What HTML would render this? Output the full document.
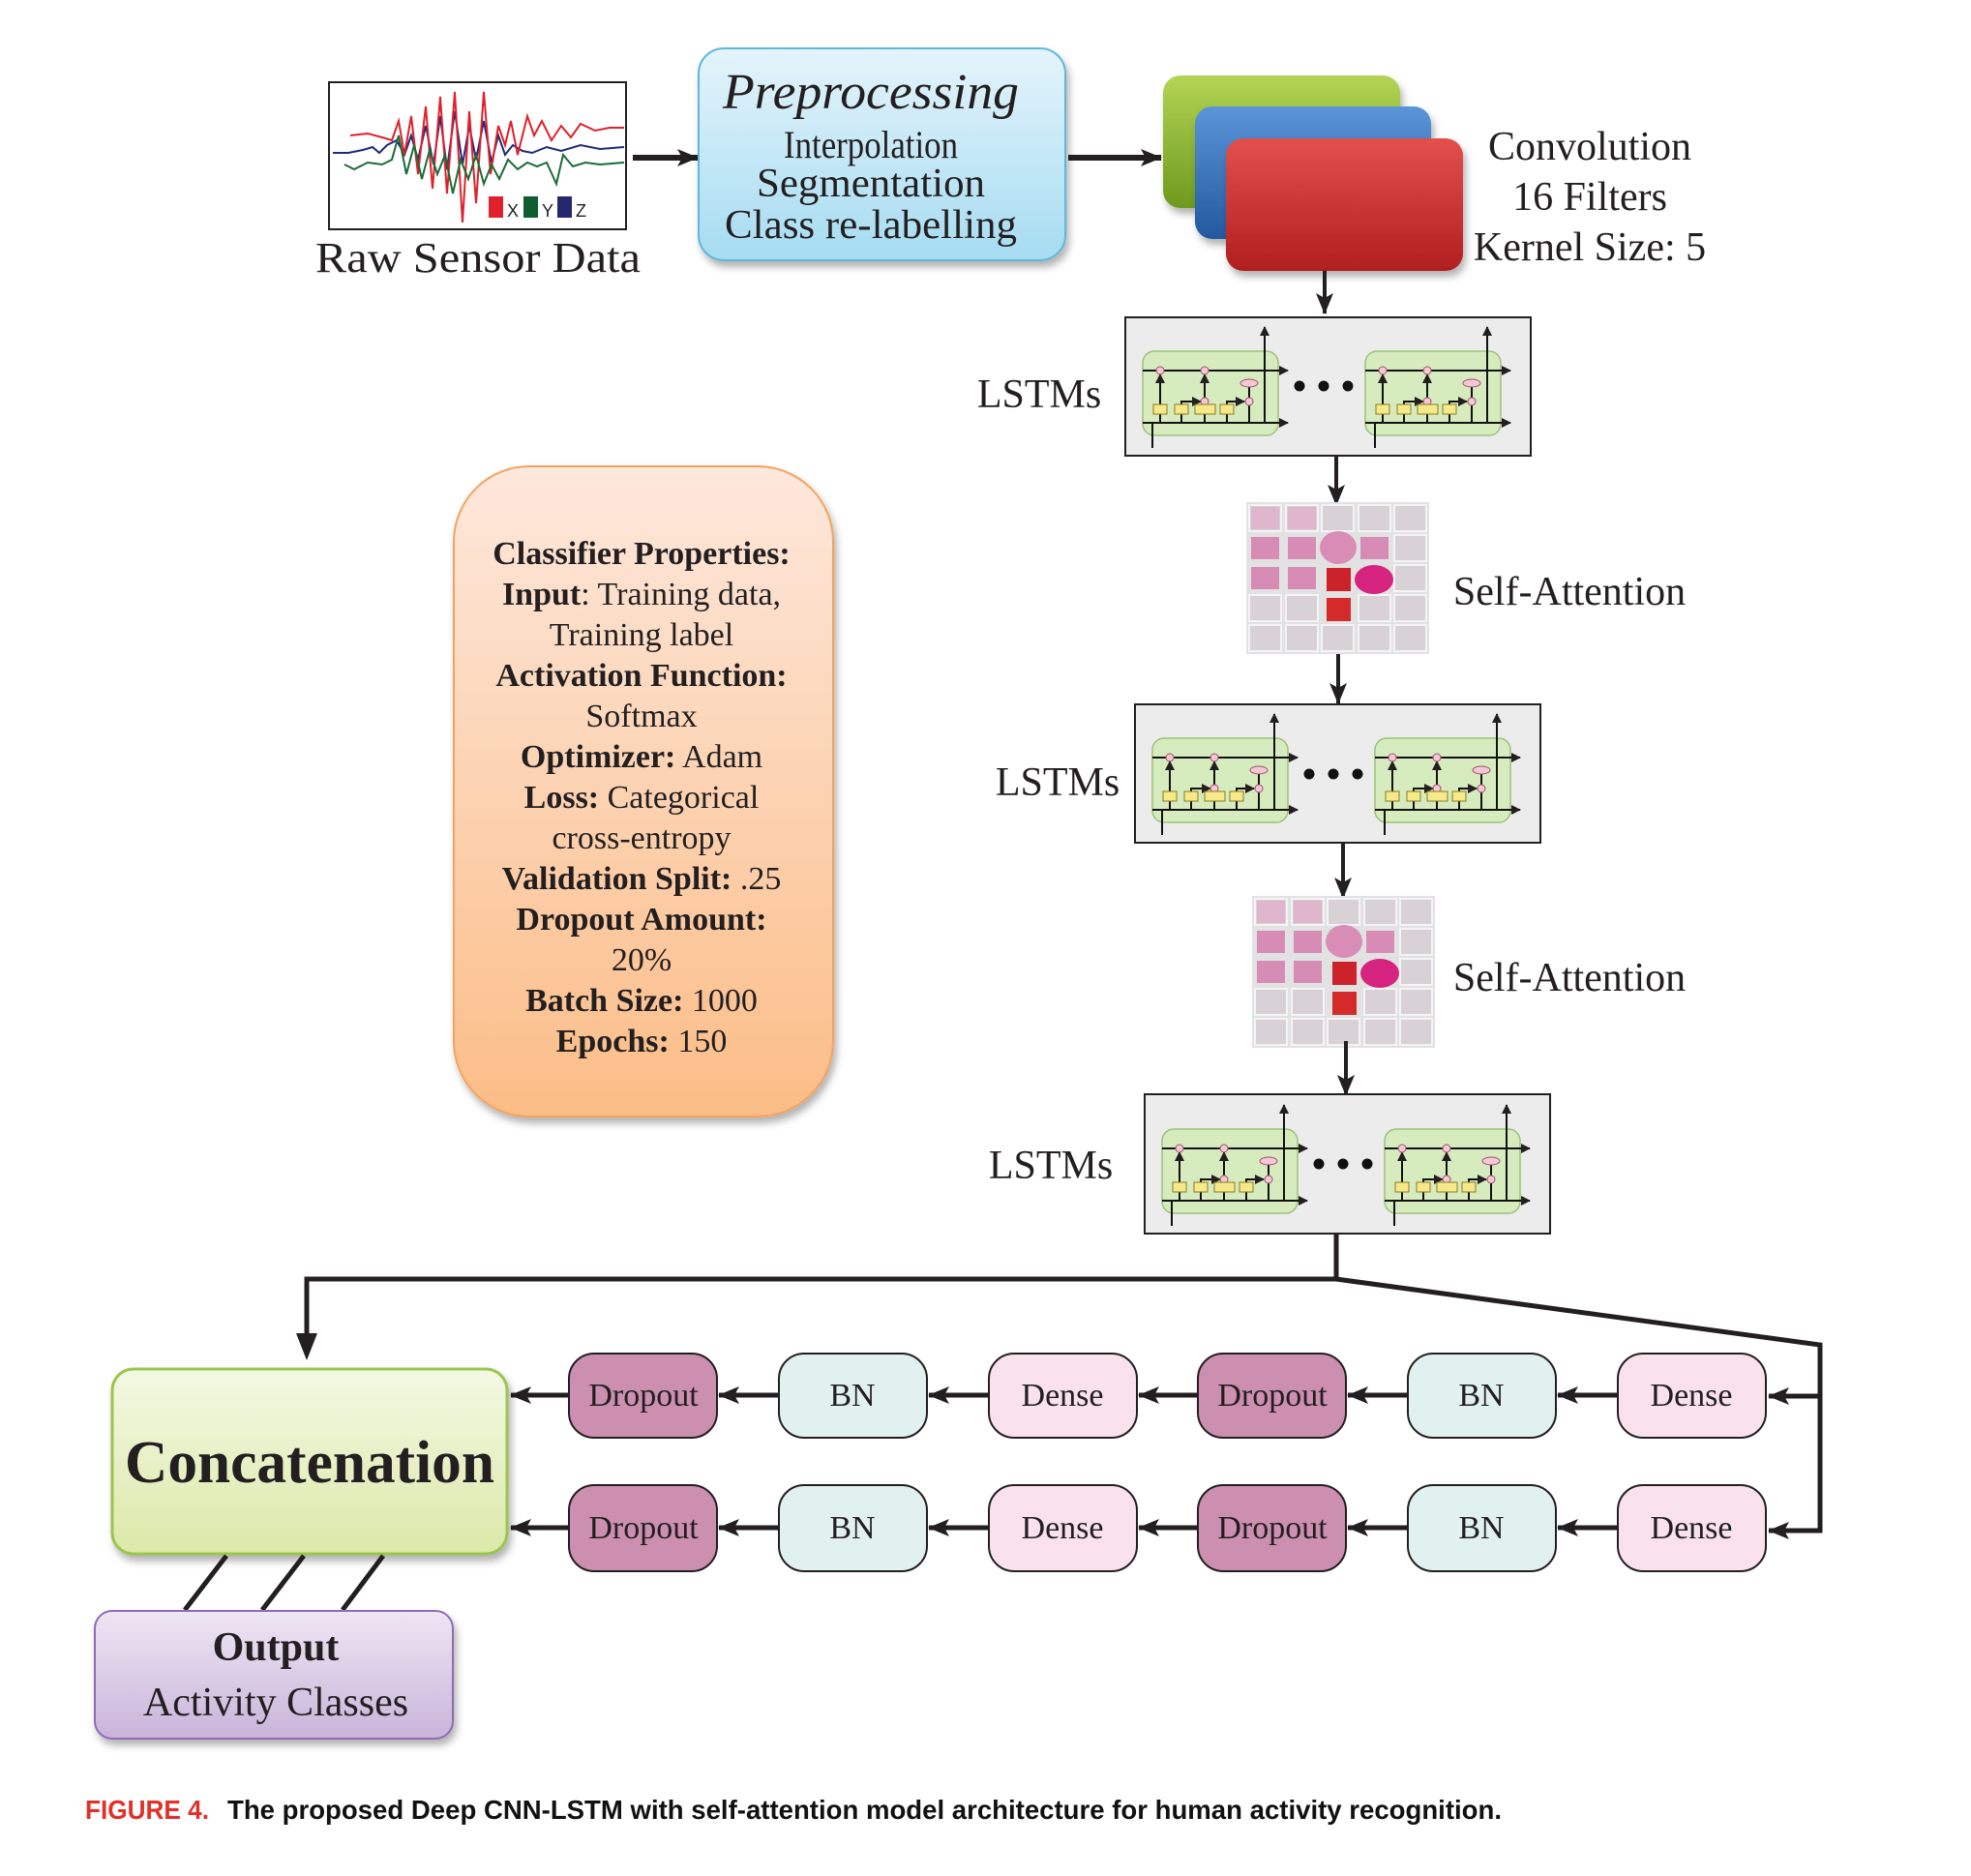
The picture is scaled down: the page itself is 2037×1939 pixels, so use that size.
<!DOCTYPE html>
<html><head><meta charset="utf-8"><style>
html,body{margin:0;padding:0;background:#fff;}
svg{display:block;}
</style></head><body>
<svg width="2037" height="1939" viewBox="0 0 2037 1939" xmlns="http://www.w3.org/2000/svg">
<defs>
<linearGradient id="gBlue" x1="0" y1="0" x2="0" y2="1"><stop offset="0" stop-color="#e4f4fb"/><stop offset="1" stop-color="#a6dcf1"/></linearGradient>
<linearGradient id="gOr" x1="0" y1="0" x2="0" y2="1"><stop offset="0" stop-color="#fde8dc"/><stop offset="1" stop-color="#fbbd87"/></linearGradient>
<linearGradient id="gGreen" x1="0" y1="0" x2="0" y2="1"><stop offset="0" stop-color="#f4f8e4"/><stop offset="1" stop-color="#dbe9a8"/></linearGradient>
<linearGradient id="gPur" x1="0" y1="0" x2="0" y2="1"><stop offset="0" stop-color="#eee6f3"/><stop offset="1" stop-color="#c9b4da"/></linearGradient>
<linearGradient id="gC1" x1="0" y1="0" x2="0" y2="1"><stop offset="0" stop-color="#b4d455"/><stop offset="1" stop-color="#6d9a1e"/></linearGradient>
<linearGradient id="gC2" x1="0" y1="0" x2="0" y2="1"><stop offset="0" stop-color="#5b95d8"/><stop offset="1" stop-color="#23589e"/></linearGradient>
<linearGradient id="gC3" x1="0" y1="0" x2="0" y2="1"><stop offset="0" stop-color="#e3504c"/><stop offset="1" stop-color="#b01e1e"/></linearGradient>
<marker id="ah" markerWidth="10" markerHeight="10" refX="9" refY="5" orient="auto" markerUnits="userSpaceOnUse"><path d="M0,0 L10,5 L0,10 z" fill="#231f20"/></marker>
<marker id="ahB" markerWidth="22" markerHeight="18" refX="21" refY="9" orient="auto" markerUnits="userSpaceOnUse"><path d="M0,0 L22,9 L0,18 L5,9 z" fill="#231f20"/></marker>
<filter id="sh" x="-10%" y="-10%" width="130%" height="130%"><feDropShadow dx="3" dy="6" stdDeviation="4" flood-color="#000" flood-opacity="0.3"/></filter>
<g id="cell">
  <rect x="0" y="0" width="140" height="87" rx="12" fill="#d7ecbe" stroke="#9cc27a" stroke-width="1.5"/>
  <g stroke="#111" stroke-width="2" fill="none">
    <line x1="0" y1="20" x2="150" y2="20" marker-end="url(#ah)"/>
    <line x1="0" y1="74" x2="150" y2="74" marker-end="url(#ah)"/>
    <line x1="126" y1="74" x2="126" y2="-25" marker-end="url(#ah)"/>
    <line x1="10" y1="100" x2="10" y2="74"/>
    <line x1="18" y1="74" x2="18" y2="24" marker-end="url(#ah)"/>
    <path d="M40,74 V52 H60" marker-end="url(#ah)"/>
    <line x1="64" y1="74" x2="64" y2="56"/>
    <line x1="64" y1="48" x2="64" y2="24" marker-end="url(#ah)"/>
    <path d="M87,74 V52 H105" marker-end="url(#ah)"/>
    <path d="M110,35 V74 H126"/>
  </g>
  <g fill="#f4c8d4" stroke="#a05070" stroke-width="1">
    <circle cx="18" cy="20" r="4"/><circle cx="64" cy="20" r="4"/><circle cx="64" cy="52" r="4"/><circle cx="110" cy="52" r="4"/>
    <ellipse cx="110" cy="33" rx="9" ry="4"/>
  </g>
  <g fill="#f5e98a" stroke="#8a7a20" stroke-width="1">
    <rect x="11" y="55" width="14" height="10"/><rect x="33" y="55" width="14" height="10"/><rect x="54" y="55" width="21" height="10"/><rect x="80" y="55" width="14" height="10"/>
  </g>
</g>
<g id="att">
  <rect x="0" y="0" width="189" height="157" fill="#e2e2e2"/>
  <g fill="#d8d2d6" stroke="#f4f4f4" stroke-width="2">
    <rect x="3" y="3" width="33" height="27"/><rect x="41" y="3" width="33" height="27"/><rect x="78" y="3" width="33" height="27"/><rect x="116" y="3" width="33" height="27"/><rect x="153" y="3" width="33" height="27"/>
    <rect x="153" y="34" width="33" height="27"/><rect x="153" y="65" width="33" height="27"/>
    <rect x="3" y="96" width="33" height="27"/><rect x="41" y="96" width="33" height="27"/><rect x="116" y="96" width="33" height="27"/><rect x="153" y="96" width="33" height="27"/>
    <rect x="3" y="127" width="33" height="27"/><rect x="41" y="127" width="33" height="27"/><rect x="78" y="127" width="33" height="27"/><rect x="116" y="127" width="33" height="27"/><rect x="153" y="127" width="33" height="27"/>
  </g>
  <g fill="#e0b6cc"><rect x="5" y="5" width="29" height="23"/><rect x="43" y="5" width="29" height="23"/></g>
  <g fill="#d78cb5"><rect x="5" y="36" width="29" height="23"/><rect x="43" y="36" width="29" height="23"/><rect x="118" y="36" width="29" height="23"/><rect x="5" y="67" width="29" height="23"/><rect x="43" y="67" width="29" height="23"/></g>
  <ellipse cx="95" cy="47" rx="19" ry="17" fill="#d98cb6"/>
  <rect x="83" y="68" width="25" height="24" fill="#cc2229"/>
  <rect x="83" y="99" width="25" height="24" fill="#d42a2a"/>
  <ellipse cx="132" cy="80" rx="20" ry="15" fill="#d6237f"/>
</g>
</defs>

<!-- Raw sensor data -->
<rect x="340" y="85" width="307" height="152" fill="#fff" stroke="#231f20" stroke-width="2"/>
<polyline fill="none" stroke="#1f2a7a" stroke-width="2" points="344,158 360,158 375,155 385,152 392,158 400,150 410,145 418,160 425,140 432,165 440,130 448,170 455,120 462,175 470,115 478,170 485,130 492,165 500,125 508,168 515,140 522,160 530,150 540,156 550,158 565,152 580,156 600,150 620,154 645,152"/>
<polyline fill="none" stroke="#e0202a" stroke-width="2" points="362,140 380,138 395,142 405,145 412,125 418,160 425,120 432,180 440,110 447,195 455,100 462,200 470,95 478,230 485,115 492,210 500,95 507,180 515,130 522,150 528,125 535,160 545,120 552,140 560,125 570,145 580,130 590,142 600,128 615,135 630,132 645,132"/>
<polyline fill="none" stroke="#1b6b35" stroke-width="2" points="356,170 366,175 380,168 395,170 405,165 412,140 420,180 428,150 436,185 444,155 452,180 460,160 468,200 476,165 484,185 492,160 500,190 508,170 516,185 525,165 535,175 545,168 555,172 565,168 575,190 582,160 592,172 605,168 620,170 645,168"/>
<rect x="505" y="203" width="15" height="22" fill="#e0202a"/><text x="524" y="224" font-family="Liberation Sans, sans-serif" font-size="18" fill="#231f20">X</text>
<rect x="541" y="203" width="15" height="22" fill="#0f5c2e"/><text x="560" y="224" font-family="Liberation Sans, sans-serif" font-size="18" fill="#231f20">Y</text>
<rect x="576" y="203" width="15" height="22" fill="#26286e"/><text x="595" y="224" font-family="Liberation Sans, sans-serif" font-size="18" fill="#231f20">Z</text>
<text x="494" y="281" text-anchor="middle" font-family="Liberation Serif, serif" font-size="44" fill="#231f20" textLength="336" lengthAdjust="spacingAndGlyphs">Raw Sensor Data</text>

<line x1="654" y1="163" x2="721" y2="163" stroke="#231f20" stroke-width="6" marker-end="url(#ahB)"/>

<!-- Preprocessing -->
<rect x="722" y="50" width="379" height="219" rx="26" fill="url(#gBlue)" stroke="#5fb8dc" stroke-width="2" filter="url(#sh)"/>
<text x="900" y="112" text-anchor="middle" font-family="Liberation Serif, serif" font-style="italic" font-size="52" fill="#231f20" textLength="306" lengthAdjust="spacingAndGlyphs">Preprocessing</text>
<text x="900" y="163" text-anchor="middle" font-family="Liberation Serif, serif" font-size="40" fill="#231f20" textLength="180" lengthAdjust="spacingAndGlyphs">Interpolation</text>
<text x="900" y="203" text-anchor="middle" font-family="Liberation Serif, serif" font-size="42" fill="#231f20" textLength="236" lengthAdjust="spacingAndGlyphs">Segmentation</text>
<text x="900" y="246" text-anchor="middle" font-family="Liberation Serif, serif" font-size="42" fill="#231f20" textLength="302" lengthAdjust="spacingAndGlyphs">Class re-labelling</text>

<line x1="1104" y1="163" x2="1200" y2="163" stroke="#231f20" stroke-width="6" marker-end="url(#ahB)"/>

<!-- Convolution -->
<rect x="1202" y="78" width="245" height="137" rx="18" fill="url(#gC1)" filter="url(#sh)"/>
<rect x="1235" y="110" width="244" height="137" rx="18" fill="url(#gC2)" filter="url(#sh)"/>
<rect x="1267" y="143" width="245" height="137" rx="18" fill="url(#gC3)" filter="url(#sh)"/>
<g font-family="Liberation Serif, serif" font-size="42" fill="#231f20" text-anchor="middle">
<text x="1643" y="165">Convolution</text>
<text x="1643" y="217">16 Filters</text>
<text x="1643" y="269">Kernel Size: 5</text>
</g>
<line x1="1369" y1="280" x2="1369" y2="324" stroke="#231f20" stroke-width="4" marker-end="url(#ahB)"/>

<!-- LSTM 1 -->
<rect x="1163" y="328" width="419" height="143" fill="#ececec" stroke="#231f20" stroke-width="2"/>
<use href="#cell" x="1181" y="363"/><use href="#cell" x="1411" y="363"/>
<g fill="#111"><circle cx="1343" cy="399" r="5.5"/><circle cx="1368" cy="399" r="5.5"/><circle cx="1393" cy="399" r="5.5"/></g>
<text x="1074" y="421" text-anchor="middle" font-family="Liberation Serif, serif" font-size="42" fill="#231f20">LSTMs</text>
<line x1="1381" y1="471" x2="1381" y2="522" stroke="#231f20" stroke-width="4" marker-end="url(#ahB)"/>

<!-- SA 1 -->
<use href="#att" x="1288" y="519"/>
<text x="1622" y="625" text-anchor="middle" font-family="Liberation Serif, serif" font-size="42" fill="#231f20">Self-Attention</text>
<line x1="1383" y1="676" x2="1383" y2="727" stroke="#231f20" stroke-width="4" marker-end="url(#ahB)"/>

<!-- LSTM 2 -->
<rect x="1173" y="728" width="419" height="143" fill="#ececec" stroke="#231f20" stroke-width="2"/>
<use href="#cell" x="1191" y="763"/><use href="#cell" x="1421" y="763"/>
<g fill="#111"><circle cx="1353" cy="800" r="5.5"/><circle cx="1378" cy="800" r="5.5"/><circle cx="1403" cy="800" r="5.5"/></g>
<text x="1093" y="822" text-anchor="middle" font-family="Liberation Serif, serif" font-size="42" fill="#231f20">LSTMs</text>
<line x1="1388" y1="871" x2="1388" y2="928" stroke="#231f20" stroke-width="4" marker-end="url(#ahB)"/>

<!-- SA 2 -->
<use href="#att" x="1294" y="926"/>
<text x="1622" y="1024" text-anchor="middle" font-family="Liberation Serif, serif" font-size="42" fill="#231f20">Self-Attention</text>
<line x1="1391" y1="1076" x2="1391" y2="1132" stroke="#231f20" stroke-width="4" marker-end="url(#ahB)"/>

<!-- LSTM 3 -->
<rect x="1183" y="1131" width="419" height="144" fill="#ececec" stroke="#231f20" stroke-width="2"/>
<use href="#cell" x="1201" y="1167"/><use href="#cell" x="1431" y="1167"/>
<g fill="#111"><circle cx="1363" cy="1203" r="5.5"/><circle cx="1388" cy="1203" r="5.5"/><circle cx="1413" cy="1203" r="5.5"/></g>
<text x="1086" y="1218" text-anchor="middle" font-family="Liberation Serif, serif" font-size="42" fill="#231f20">LSTMs</text>

<!-- Connectors -->
<g stroke="#231f20" stroke-width="5" fill="none">
<polyline points="1381,1275 1381,1322 317,1322 317,1400"/>
<polyline points="1381,1322 1881,1390 1881,1582 1830,1582"/>
<line x1="1881" y1="1443" x2="1830" y2="1443"/>
</g>
<path d="M306,1378 L317,1406 L328,1378 z" fill="#231f20"/>

<!-- Classifier properties -->
<rect x="469" y="482" width="392" height="672" rx="78" fill="url(#gOr)" stroke="#f5a35c" stroke-width="2" filter="url(#sh)"/>
<g font-family="Liberation Serif, serif" font-size="34" fill="#231f20" text-anchor="middle">
<text x="663" y="583"><tspan font-weight="bold">Classifier Properties:</tspan></text>
<text x="663" y="625"><tspan font-weight="bold">Input</tspan>: Training data,</text>
<text x="663" y="667">Training label</text>
<text x="663" y="709"><tspan font-weight="bold">Activation Function:</tspan></text>
<text x="663" y="751">Softmax</text>
<text x="663" y="793"><tspan font-weight="bold">Optimizer:</tspan> Adam</text>
<text x="663" y="835"><tspan font-weight="bold">Loss:</tspan> Categorical</text>
<text x="663" y="877">cross-entropy</text>
<text x="663" y="919"><tspan font-weight="bold">Validation Split:</tspan> .25</text>
<text x="663" y="961"><tspan font-weight="bold">Dropout Amount:</tspan></text>
<text x="663" y="1003">20%</text>
<text x="663" y="1045"><tspan font-weight="bold">Batch Size:</tspan> 1000</text>
<text x="663" y="1087"><tspan font-weight="bold">Epochs:</tspan> 150</text>
</g>

<!-- Concatenation -->
<rect x="116" y="1415" width="408" height="191" rx="22" fill="url(#gGreen)" stroke="#9cc550" stroke-width="3" filter="url(#sh)"/>
<text x="320" y="1532" text-anchor="middle" font-family="Liberation Serif, serif" font-weight="bold" font-size="62" fill="#231f20" textLength="382" lengthAdjust="spacingAndGlyphs">Concatenation</text>

<!-- Output -->
<g stroke="#231f20" stroke-width="5">
<line x1="234" y1="1608" x2="191" y2="1664"/><line x1="314" y1="1608" x2="271" y2="1664"/><line x1="396" y1="1608" x2="354" y2="1664"/>
</g>
<rect x="98" y="1665" width="370" height="132" rx="18" fill="url(#gPur)" stroke="#8e6cb5" stroke-width="2" filter="url(#sh)"/>
<text x="285" y="1716" text-anchor="middle" font-family="Liberation Serif, serif" font-weight="bold" font-size="42" fill="#231f20">Output</text>
<text x="285" y="1773" text-anchor="middle" font-family="Liberation Serif, serif" font-size="42" fill="#231f20">Activity Classes</text>

<!-- Rows -->
<g font-family="Liberation Serif, serif" font-size="34" fill="#231f20" text-anchor="middle" stroke="#231f20">
<g stroke-width="2">
<rect x="588" y="1399" width="153" height="87" rx="26" fill="#cd8fb0"/>
<rect x="805" y="1399" width="153" height="87" rx="26" fill="#e0f1f0"/>
<rect x="1022" y="1399" width="153" height="87" rx="26" fill="#f9e2ec"/>
<rect x="1238" y="1399" width="153" height="87" rx="26" fill="#cd8fb0"/>
<rect x="1455" y="1399" width="153" height="87" rx="26" fill="#e0f1f0"/>
<rect x="1672" y="1399" width="153" height="87" rx="26" fill="#f9e2ec"/>
<rect x="588" y="1535" width="153" height="89" rx="26" fill="#cd8fb0"/>
<rect x="805" y="1535" width="153" height="89" rx="26" fill="#e0f1f0"/>
<rect x="1022" y="1535" width="153" height="89" rx="26" fill="#f9e2ec"/>
<rect x="1238" y="1535" width="153" height="89" rx="26" fill="#cd8fb0"/>
<rect x="1455" y="1535" width="153" height="89" rx="26" fill="#e0f1f0"/>
<rect x="1672" y="1535" width="153" height="89" rx="26" fill="#f9e2ec"/>
</g>
<g stroke="none">
<text x="665" y="1453">Dropout</text><text x="881" y="1453">BN</text><text x="1098" y="1453">Dense</text><text x="1315" y="1453">Dropout</text><text x="1531" y="1453">BN</text><text x="1748" y="1453">Dense</text>
<text x="665" y="1590">Dropout</text><text x="881" y="1590">BN</text><text x="1098" y="1590">Dense</text><text x="1315" y="1590">Dropout</text><text x="1531" y="1590">BN</text><text x="1748" y="1590">Dense</text>
</g>
</g>
<g stroke="#231f20" stroke-width="5" marker-end="url(#ahB)">
<line x1="588" y1="1442" x2="528" y2="1442"/><line x1="805" y1="1442" x2="743" y2="1442"/><line x1="1022" y1="1442" x2="960" y2="1442"/><line x1="1238" y1="1442" x2="1177" y2="1442"/><line x1="1455" y1="1442" x2="1393" y2="1442"/><line x1="1672" y1="1442" x2="1610" y2="1442"/><line x1="1850" y1="1443" x2="1828" y2="1443"/>
<line x1="588" y1="1579" x2="528" y2="1579"/><line x1="805" y1="1579" x2="743" y2="1579"/><line x1="1022" y1="1579" x2="960" y2="1579"/><line x1="1238" y1="1579" x2="1177" y2="1579"/><line x1="1455" y1="1579" x2="1393" y2="1579"/><line x1="1672" y1="1579" x2="1610" y2="1579"/><line x1="1850" y1="1582" x2="1828" y2="1582"/>
</g>

<!-- Caption -->
<text x="88" y="1880" font-family="Liberation Sans Narrow, Liberation Sans, sans-serif" font-weight="bold" font-size="28" fill="#e0312a" textLength="128" lengthAdjust="spacingAndGlyphs">FIGURE 4.</text>
<text x="235" y="1880" font-family="Liberation Sans Narrow, Liberation Sans, sans-serif" font-weight="bold" font-size="28" fill="#111" textLength="1317" lengthAdjust="spacingAndGlyphs">The proposed Deep CNN-LSTM with self-attention model architecture for human activity recognition.</text>
</svg>
</body></html>
